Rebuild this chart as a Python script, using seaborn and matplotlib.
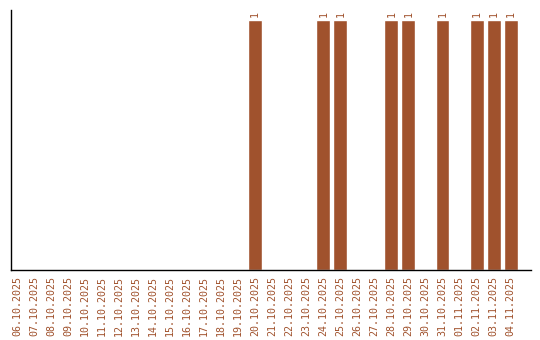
import matplotlib
matplotlib.use("Agg")
import matplotlib.pyplot as plt
import seaborn as sns
import pandas as pd

dates = ["06.10.2025", "07.10.2025", "08.10.2025", "09.10.2025", "10.10.2025",
         "11.10.2025", "12.10.2025", "13.10.2025", "14.10.2025", "15.10.2025",
         "16.10.2025", "17.10.2025", "18.10.2025", "19.10.2025", "20.10.2025",
         "21.10.2025", "22.10.2025", "23.10.2025", "24.10.2025", "25.10.2025",
         "26.10.2025", "27.10.2025", "28.10.2025", "29.10.2025", "30.10.2025",
         "31.10.2025", "01.11.2025", "02.11.2025", "03.11.2025", "04.11.2025"]
counts = [0, 0, 0, 0, 0, 0, 0, 0, 0, 0, 0, 0, 0, 0, 1,
          0, 0, 0, 1, 1, 0, 0, 1, 1, 0, 1, 0, 1, 1, 1]

color = "#A0522D"
df = pd.DataFrame({"date": dates, "count": counts})

sns.set_style("white")
plt.rcParams["font.family"] = ["DejaVu Sans Mono"]

fig = plt.figure(figsize=(5.4, 3.4), dpi=100)
ax = fig.add_axes([10.5 / 540, 70 / 340, (531 - 10.5) / 540, 260 / 340])
sns.barplot(data=df, x="date", y="count", color=color, saturation=1,
            width=0.82, ax=ax)

for i, v in enumerate(counts):
    if v > 0:
        ax.text(i, v + 0.012, str(v), rotation=90, ha="center", va="bottom",
                fontsize=7.2, color=color)

ax.set_xlim(-0.38, 30.2)
ax.set_ylim(0, 1.04)
ax.set_xlabel("")
ax.set_ylabel("")
ax.set_yticks([])
ax.tick_params(axis="x", length=0, pad=4, labelsize=7.2, labelcolor=color,
               rotation=90)
for s in ["top", "right"]:
    ax.spines[s].set_visible(False)
for s in ["left", "bottom"]:
    ax.spines[s].set_color("black")
    ax.spines[s].set_linewidth(1)

fig.savefig("out.png", dpi=100)
